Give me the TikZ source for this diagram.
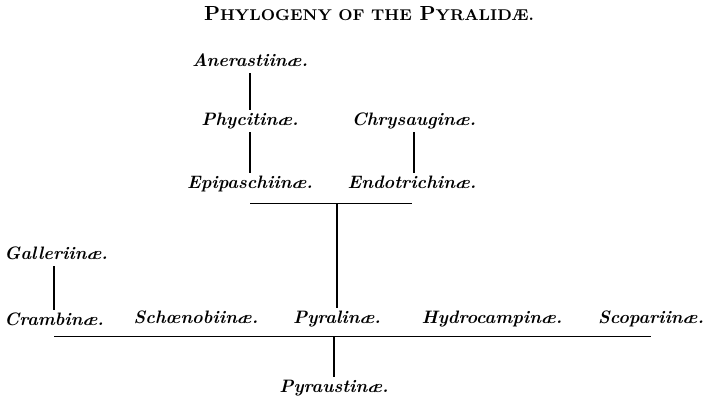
\documentclass[tikz,border=0pt]{standalone}
\usepackage{tikz}
\usetikzlibrary{positioning}

\begin{document}
\begin{tikzpicture}[
x=0.5pt,y=-0.5pt,
taxon/.style={
  inner sep=1pt,
  text height=6.2pt,
  text depth=2.5pt,
  anchor=base,
  font=\fontsize{9}{11}\selectfont\bfseries\itshape
},
heading/.style={
  inner sep=0pt,
  anchor=base,
  font=\fontsize{10.2}{12}\selectfont\bfseries
},
link/.style={line width=0.9pt}
]
\useasboundingbox (0,0) rectangle (704,398);
\node[heading] (title) at (369,20) {P{\fontsize{7.8}{9}\selectfont HYLOGENY OF THE} P{\fontsize{7.8}{9}\selectfont YRALIDÆ.}};
\node[taxon] (ane) at (250,66) {Anerastiinæ.};
\node[taxon] (phy) at (250,125) {Phycitinæ.};
\node[taxon] (epi) at (250,188) {Epipaschiinæ.};
\node[taxon] (chr) at (414,125) {Chrysauginæ.};
\node[taxon] (endo) at (412,188) {Endotrichinæ.};
\node[taxon,anchor=base west] (gal) at (2,259) {Galleriinæ.};
\node[taxon,anchor=base west] (cra) at (2,325) {Crambinæ.};
\node[taxon] (sch) at (196,323) {Schœnobiinæ.};
\node[taxon] (pyr) at (337,323) {Pyralinæ.};
\node[taxon] (hyd) at (492,323) {Hydrocampinæ.};
\node[taxon] (sco) at (651,323) {Scopariinæ.};
\node[taxon] (pyu) at (334,392) {Pyraustinæ.};
\draw[link] (ane) -- (phy);
\draw[link] (phy) -- (epi);
\draw[link] (chr.south) -- (chr.south |- endo.north);
\draw[link] (gal.south -| cra) -- (cra.north);
\draw[link] (epi.south) ++(0,8) coordinate (barL) -- (barL -| endo.south);
\draw[link] (barL -| pyr.north) -- (pyr.north);
\draw[link] (cra.south) ++(0,4) coordinate (baseL) -- (baseL -| sco.south);
\draw[link] (baseL -| pyu.north) -- (pyu.north);
\end{tikzpicture}
\end{document}
